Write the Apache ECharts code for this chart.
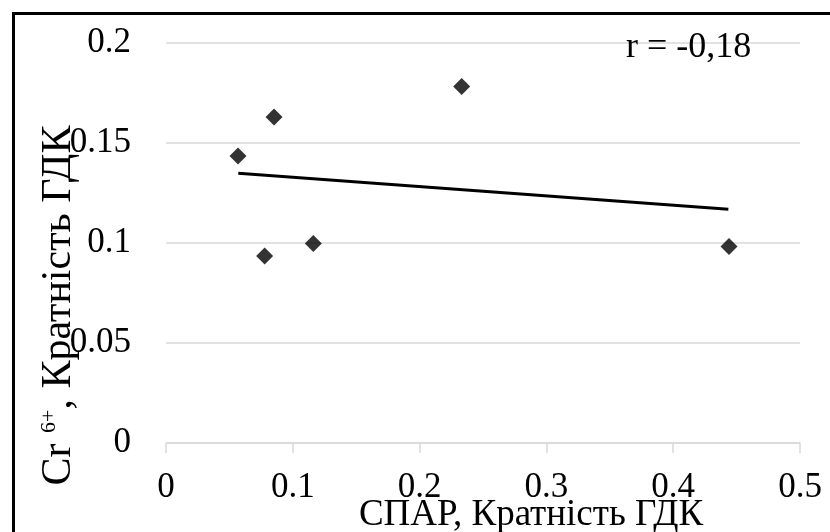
<!DOCTYPE html>
<html>
<head>
<meta charset="utf-8">
<script src="https://cdn.jsdelivr.net/npm/echarts@6/dist/echarts.min.js"></script>
<style>html,body{margin:0;padding:0;background:#fff;}#c{width:830px;height:532px;}</style>
</head>
<body>
<div id="c"></div>
<script>
const xValues = [0.0568, 0.0852, 0.0778, 0.1162, 0.2332, 0.444];
const yValues = [0.1435, 0.163, 0.0935, 0.0997, 0.1782, 0.0982];
const trendX = [0.057, 0.4435];
const trendY = [0.1349, 0.1169];
const xTicks = [0, 0.1, 0.2, 0.3, 0.4, 0.5];
const yTicks = [0, 0.05, 0.1, 0.15, 0.2];
const xTitle = 'СПАР, Кратність ГДК';
const yTitleMain = 'Cr ';
const yTitleSup = '6+';
const yTitleRest = ', Кратність ГДК';
const rText = 'r = -0,18';

const FONT = '"Liberation Serif", "Times New Roman", serif';
const chart = echarts.init(document.getElementById('c'), null, {renderer: 'canvas'});
chart.setOption({
  animation: false,
  backgroundColor: '#fff',
  grid: {left: 166, right: 30, top: 43, bottom: 89, containLabel: false, outerBoundsMode: 'none'},
  xAxis: {
    type: 'value', min: xTicks[0], max: xTicks[xTicks.length - 1], interval: 0.1,
    axisLine: {show: true, lineStyle: {color: '#d9d9d9', width: 1.5}},
    axisTick: {show: true, length: 10, lineStyle: {color: '#d9d9d9', width: 1.5}},
    splitLine: {show: false},
    axisLabel: {color: '#000', fontFamily: FONT, fontSize: 35, margin: 27,
      formatter: v => String(+v.toFixed(2))},
    name: xTitle, nameLocation: 'middle', nameGap: 54, nameMoveOverlap: false,
    nameTextStyle: {color: '#000', fontFamily: FONT, fontSize: 37, padding: [0, 0, 0, 96]}
  },
  yAxis: {
    type: 'value', min: yTicks[0], max: yTicks[yTicks.length - 1], interval: 0.05,
    axisLine: {show: false}, axisTick: {show: false},
    splitLine: {show: true, lineStyle: {color: '#d9d9d9', width: 1.5}},
    axisLabel: {color: '#000', fontFamily: FONT, fontSize: 35, margin: 35,
      formatter: v => String(+v.toFixed(2))},
    name: '{a|' + yTitleMain + '}{s|' + yTitleSup + '}{a|' + yTitleRest + '}',
    nameLocation: 'middle', nameGap: 86, nameRotate: 90, nameMoveOverlap: false,
    nameTextStyle: {
      color: '#000', fontFamily: FONT, fontSize: 42, padding: [0, 125, 0, 0],
      rich: {
        a: {color: '#000', fontFamily: FONT, fontSize: 42, verticalAlign: 'bottom'},
        s: {color: '#000', fontFamily: FONT, fontSize: 22, verticalAlign: 'top'}
      }
    }
  },
  series: [
    {
      type: 'line', data: trendX.map((x, i) => [x, trendY[i]]),
      showSymbol: false, symbol: 'none',
      lineStyle: {color: '#000', width: 3}, z: 2, silent: true
    },
    {
      type: 'scatter', data: xValues.map((x, i) => [x, yValues[i]]),
      symbol: 'diamond', symbolSize: 17,
      itemStyle: {color: '#000'}, z: 3
    }
  ],
  graphic: [
    {type: 'rect', shape: {x: 13.5, y: 13.5, width: 900, height: 700},
     style: {fill: 'none', stroke: '#000', lineWidth: 3}, silent: true, z: 100},
    {type: 'text', x: 626, y: 47.5,
     style: {text: rText, font: '36px ' + FONT, fill: '#000', textVerticalAlign: 'middle', verticalAlign: 'middle'}, z: 100}
  ]
});
</script>
</body>
</html>
